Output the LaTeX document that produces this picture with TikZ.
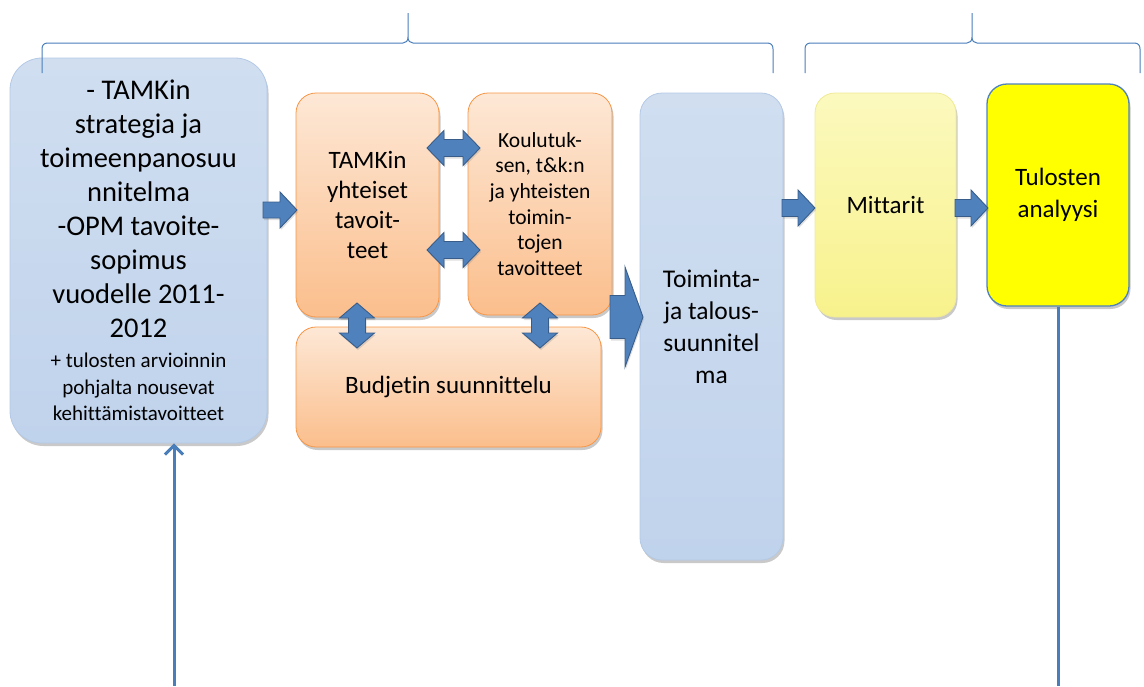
\documentclass[tikz,border=0pt]{standalone}
\usepackage{fontspec}
\setmainfont{Carlito}[Ligatures={NoCommon}]
\usetikzlibrary{shadows,arrows.meta,calc}
\definecolor{bluetop}{RGB}{208,222,240}
\definecolor{bluebot}{RGB}{192,211,236}
\definecolor{blueedge}{RGB}{180,201,230}
\definecolor{orgtop}{RGB}{253,232,214}
\definecolor{orgbot}{RGB}{251,190,140}
\definecolor{orgedge}{RGB}{247,150,70}
\definecolor{yeltop}{RGB}{251,249,190}
\definecolor{yelbot}{RGB}{248,242,140}
\definecolor{yeledge}{RGB}{240,234,150}
\definecolor{arrfill}{RGB}{79,129,189}
\definecolor{arrdraw}{RGB}{56,93,138}
\definecolor{linecol}{RGB}{74,126,187}
\definecolor{pureyellow}{RGB}{255,255,0}
\tikzset{
  shad/.style={drop shadow={shadow xshift=1.5pt,shadow yshift=-3pt,opacity=0.3,fill=black!70}},
  bluebox/.style={shad,draw=blueedge,line width=0.8pt,top color=bluetop,bottom color=bluebot,inner sep=0pt},
  orgbox/.style={shad,draw=orgedge,line width=0.8pt,top color=orgtop,bottom color=orgbot,rounded corners=20pt,inner sep=0pt},
  yelbox/.style={shad,draw=yeledge,line width=0.8pt,top color=yeltop,bottom color=yelbot,rounded corners=20pt,inner sep=0pt},
  tulbox/.style={shad,draw=arrfill,line width=1.3pt,fill=pureyellow,rounded corners=20pt,inner sep=0pt},
  barrow/.style={fill=arrfill,draw=arrdraw,line width=0.9pt,line join=miter,drop shadow={shadow xshift=1pt,shadow yshift=-2pt,opacity=0.25}},
  bracestyle/.style={draw=linecol,line width=1pt},
  thinline/.style={draw=linecol,line width=3pt},
}
\newcommand{\myRarrow}[6]{\draw[barrow] (#1,#3-#4) -- (#2-#6,#3-#4) -- (#2-#6,#3-#5) -- (#2,#3) -- (#2-#6,#3+#5) -- (#2-#6,#3+#4) -- (#1,#3+#4) -- cycle;}
\newcommand{\myDHarrow}[6]{\draw[barrow] (#1,#3) -- (#1+#6,#3-#5) -- (#1+#6,#3-#4) -- (#2-#6,#3-#4) -- (#2-#6,#3-#5) -- (#2,#3) -- (#2-#6,#3+#5) -- (#2-#6,#3+#4) -- (#1+#6,#3+#4) -- (#1+#6,#3+#5) -- cycle;}
\newcommand{\myDVarrow}[6]{\draw[barrow] (#1,#2) -- (#1+#5,#2+#6) -- (#1+#4,#2+#6) -- (#1+#4,#3-#6) -- (#1+#5,#3-#6) -- (#1,#3) -- (#1-#5,#3-#6) -- (#1-#4,#3-#6) -- (#1-#4,#2+#6) -- (#1-#5,#2+#6) -- cycle;}
\newcommand{\myBrace}[3]{\draw[bracestyle] (#1,73) -- (#1,49) .. controls (#1,45) and (#1+2,43) .. (#1+6,43) -- (#2-5,43) .. controls (#2-2,43) and (#2,41) .. (#2,37) -- (#2,13) -- (#2,37) .. controls (#2,41) and (#2+2,43) .. (#2+5,43) -- (#3-6,43) .. controls (#3-2,43) and (#3,45) .. (#3,49) -- (#3,73);}
\begin{document}
\begin{tikzpicture}[x=1pt,y=-1pt]
\useasboundingbox (0,0) rectangle (1144,686);
% boxes
\node[bluebox,rounded corners=32pt,minimum width=257,minimum height=385] (L) at (138.5,250.5)
  {\parbox{250pt}{\centering\fontsize{28.5}{34}\selectfont - TAMKin\\strategia ja\\toimeenpanosuu\\nnitelma\\-OPM tavoite-\\sopimus\\vuodelle 2011-\\2012\par\vspace{4pt}\fontsize{21}{26.5}\selectfont + tulosten arvioinnin\\pohjalta nousevat\\kehittämistavoitteet\par}};
\node[orgbox,minimum width=143,minimum height=224,align=center,font=\fontsize{25}{30}\selectfont] (O1) at (367.5,205) {TAMKin\\yhteiset\\tavoit-\\teet};
\node[orgbox,minimum width=144,minimum height=222,align=center,font=\fontsize{21.5}{25.6}\selectfont] (O2) at (540,204) {Koulutuk-\\sen, t\&k:n\\ja yhteisten\\toimin-\\tojen\\tavoitteet};
\node[orgbox,minimum width=305,minimum height=120,font=\fontsize{25}{30}\selectfont] (B) at (448.5,387) {Budjetin suunnittelu};
\node[bluebox,rounded corners=22pt,minimum width=143,minimum height=467,align=center,font=\fontsize{25.5}{32}\selectfont] (TT) at (711.5,326.5) {Toiminta-\\ja talous-\\suunnitel\\ma};
\node[yelbox,minimum width=141,minimum height=224,font=\fontsize{25}{30}\selectfont] (M) at (885.5,205) {Mittarit};
\node[tulbox,minimum width=142,minimum height=222,align=center,font=\fontsize{25}{32}\selectfont] (T) at (1058,195) {Tulosten\\analyysi};
% block arrows
\myRarrow{263}{297}{210}{8}{18}{17}
\myRarrow{610}{643}{317}{21.5}{50}{18}
\myRarrow{782}{815}{208}{8.5}{18}{17}
\myRarrow{955}{988}{208}{8.5}{18}{17}
\myDHarrow{427}{480}{148}{8.5}{17.5}{17}
\myDHarrow{427}{480}{250}{8.5}{17.5}{17}
\myDVarrow{357}{303}{348}{8.5}{17.5}{15}
\myDVarrow{540}{303}{348}{8.5}{17.5}{15}
% braces
\myBrace{42}{408}{773}
\myBrace{805}{972}{1140}
% thin lines
\coordinate (ab) at (174,686);
\coordinate (rb) at (1058,686);
\draw[thinline,-{Straight Barb[length=9pt,width=18pt,line width=3pt]}] (ab) -- (ab |- L.south);
\draw[thinline] (T.south -| rb) -- (rb);
\end{tikzpicture}
\end{document}
